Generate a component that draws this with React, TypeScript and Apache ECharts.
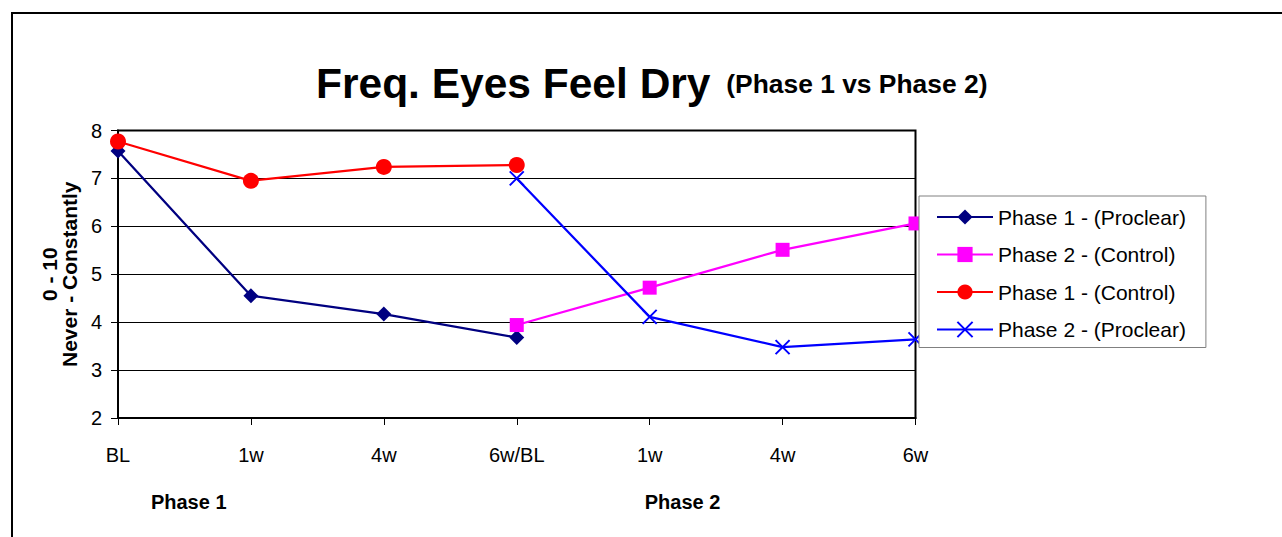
import React, { useEffect, useRef } from "react";
import * as echarts from "echarts";

const categories = ["BL", "1w", "4w", "6w/BL", "1w", "4w", "6w"];
const yTicks = [2, 3, 4, 5, 6, 7, 8];

const seriesNames = [
  "Phase 1 - (Proclear)",
  "Phase 2 - (Control)",
  "Phase 1 - (Control)",
  "Phase 2 - (Proclear)",
];
const phase1Proclear = [7.57, 4.55, 4.17, 3.68, null, null, null];
const phase2Control = [null, null, null, 3.94, 4.72, 5.51, 6.06];
const phase1Control = [7.77, 6.95, 7.24, 7.28, null, null, null];
const phase2Proclear = [null, null, null, 7.0, 4.11, 3.48, 3.64];

const phaseLabels = ["Phase 1", "Phase 2"];
const titleMain = "Freq. Eyes Feel Dry";
const titleSub = "(Phase 1 vs Phase 2)";
const yName = "0 - 10\nNever - Constantly";

const FONT = "'Liberation Sans', Arial, Helvetica, sans-serif";
const X_PATH = "path://M0,0L10,10M0,10L10,0";

export default function App() {
  const ref = useRef<HTMLDivElement>(null);

  useEffect(() => {
    if (!ref.current) return;
    const chart = echarts.init(ref.current, null, { renderer: "svg" });

    const mk = (
      name: string,
      data: (number | null)[],
      color: string,
      symbol: string,
      size: number,
      extraItem: any = {}
    ) => ({
      name,
      type: "line",
      data,
      symbol,
      symbolSize: size,
      showAllSymbol: true,
      connectNulls: false,
      lineStyle: { color, width: 2.25 },
      itemStyle: { color, ...extraItem },
      emphasis: { disabled: true },
    });

    chart.setOption({
      animation: false,
      backgroundColor: "#ffffff",
      textStyle: { fontFamily: FONT, color: "#000" },
      title: {
        left: 316,
        top: 59,
        padding: 0,
        text: `{a|${titleMain} }{b|${titleSub}}`,
        textStyle: {
          rich: {
            a: {
              fontFamily: FONT,
              fontSize: 42.5,
              fontWeight: "bold",
              color: "#000",
              lineHeight: 48,
            },
            b: {
              fontFamily: FONT,
              fontSize: 26.4,
              fontWeight: "bold",
              color: "#000",
              padding: [2, 0, 0, 4],
            },
          },
        },
      },
      legend: {
        orient: "vertical",
        left: 919,
        top: 196,
        padding: [10, 20, 7, 17],
        itemWidth: 56,
        itemHeight: 19,
        itemGap: 15.5,
        backgroundColor: "#ffffff",
        borderColor: "#808080",
        borderWidth: 1,
        borderRadius: 0,
        selectedMode: false,
        textStyle: {
          fontFamily: FONT,
          fontSize: 21,
          lineHeight: 22,
          color: "#000",
        },
        data: seriesNames,
      },
      grid: {
        left: 118,
        top: 130.5,
        right: 366.5,
        bottom: 119,
        show: true,
        borderColor: "#000",
        borderWidth: 2,
        backgroundColor: "transparent",
      },
      xAxis: {
        type: "category",
        data: categories,
        boundaryGap: false,
        axisLine: { show: true, lineStyle: { color: "#000", width: 2 } },
        axisTick: {
          show: true,
          alignWithLabel: true,
          length: 7,
          lineStyle: { color: "#000", width: 1 },
        },
        axisLabel: {
          fontFamily: FONT,
          fontSize: 20,
          lineHeight: 20,
          color: "#000",
          margin: 27,
          interval: 0,
        },
        splitLine: { show: false },
      },
      yAxis: {
        type: "value",
        min: yTicks[0],
        max: yTicks[yTicks.length - 1],
        interval: 1,
        name: yName,
        nameLocation: "middle",
        nameRotate: 90,
        nameGap: 38,
        nameTextStyle: {
          fontFamily: FONT,
          fontSize: 21,
          fontWeight: "bold",
          lineHeight: 20,
          color: "#000",
        },
        axisLine: { show: true, lineStyle: { color: "#000", width: 2 } },
        axisTick: { show: true, length: 7, lineStyle: { color: "#000", width: 1 } },
        axisLabel: {
          fontFamily: FONT,
          fontSize: 20,
          color: "#000",
          margin: 16,
        },
        splitLine: { show: true, lineStyle: { color: "#000", width: 1 } },
      },
      graphic: [
        {
          type: "rect",
          silent: true,
          shape: { x: 12, y: 13, width: 1300, height: 600 },
          style: { fill: "none", stroke: "#000", lineWidth: 2 },
        },
        {
          type: "text",
          x: 188.7,
          y: 502,
          style: {
            text: phaseLabels[0],
            fontFamily: FONT,
            fontSize: 20,
            fontWeight: "bold",
            fill: "#000",
            align: "center",
            verticalAlign: "middle",
          },
        },
        {
          type: "text",
          x: 682.5,
          y: 502,
          style: {
            text: phaseLabels[1],
            fontFamily: FONT,
            fontSize: 20,
            fontWeight: "bold",
            fill: "#000",
            align: "center",
            verticalAlign: "middle",
          },
        },
      ],
      series: [
        mk(seriesNames[0], phase1Proclear, "#000080", "diamond", 15),
        mk(seriesNames[1], phase2Control, "#FF00FF", "rect", 14),
        mk(seriesNames[2], phase1Control, "#FF0000", "circle", 16),
        mk(seriesNames[3], phase2Proclear, "#0000FF", X_PATH, 14, {
          borderColor: "#0000FF",
          borderWidth: 2,
        }),
      ],
    });

    return () => chart.dispose();
  }, []);

  return (
    <div
      ref={ref}
      style={{
        position: "absolute",
        left: 0,
        top: 0,
        width: 1282,
        height: 537,
        background: "#fff",
      }}
    />
  );
}
